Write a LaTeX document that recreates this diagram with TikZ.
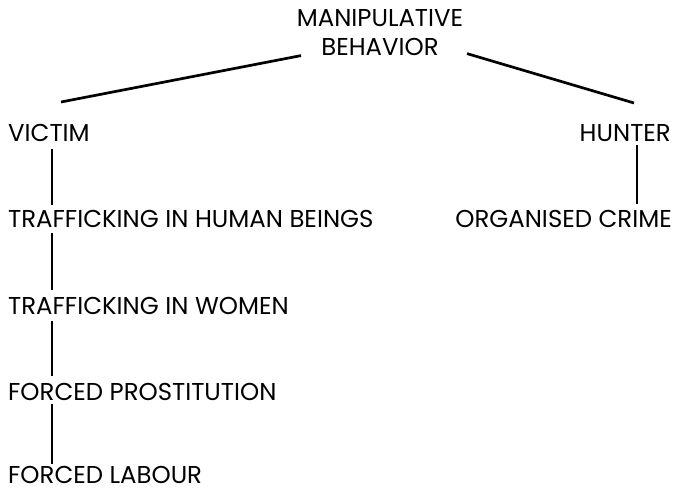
\documentclass[tikz,border=0pt]{standalone}
\usepackage{fontspec}
\setmainfont{Poppins}
\usepackage{tikz}
\tikzset{tree/.style={x=1pt,y=-1pt,line join=round},
  lbl/.style={inner sep=0pt,text height=17pt,text depth=0pt,font=\fontsize{24.4}{29}\selectfont},
  link/.style={black,line width=2.7pt}}

\begin{document}
\begin{tikzpicture}[tree]
  \useasboundingbox (0,0) rectangle (674,491);
  \node[inner sep=0pt,anchor=north,align=center,font=\fontsize{24.4}{29}\selectfont](ttl)at(380,9){MANIPULATIVE\\BEHAVIOR};
  % left branch
  \node[lbl,anchor=south west](vic)at(8,142){VICTIM};
  \node[lbl,anchor=south west](thb)at(8,228){TRAFFICKING IN HUMAN BEINGS};
  \node[lbl,anchor=south west](tiw)at(8,315){TRAFFICKING IN WOMEN};
  \node[lbl,anchor=south west](fpr)at(8,401){FORCED PROSTITUTION};
  \node[lbl,anchor=south west](fla)at(8,484){FORCED LABOUR};
  % right branch
  \node[lbl,anchor=south east](hnt)at(671,142){HUNTER};
  \node[lbl,anchor=south east](orc)at(672,228){ORGANISED CRIME};
  \coordinate(lstem)at(52,0);\coordinate(rstem)at(637,0);
  \draw[link]([xshift=53pt,yshift=40pt]vic.south west)--([xshift=-79pt,yshift=0pt]ttl.south);
  \draw[link]([xshift=-37pt,yshift=39pt]hnt.south east)--([xshift=87pt,yshift=2pt]ttl.south);
  \draw[link,shorten <=7pt,shorten >=6pt](vic.south -| lstem)--(thb.north -| lstem);
  \draw[link,shorten <=5pt,shorten >=8pt](thb.south -| lstem)--(tiw.north -| lstem);
  \draw[link,shorten <=6pt,shorten >=8pt](tiw.south -| lstem)--(fpr.north -| lstem);
  \draw[link,shorten <=3pt,shorten >=3pt](fpr.south -| lstem)--(fla.north -| lstem);
  \draw[link,shorten <=3pt,shorten >=7pt](hnt.south -| rstem)--(orc.north -| rstem);
\end{tikzpicture}
\end{document}
